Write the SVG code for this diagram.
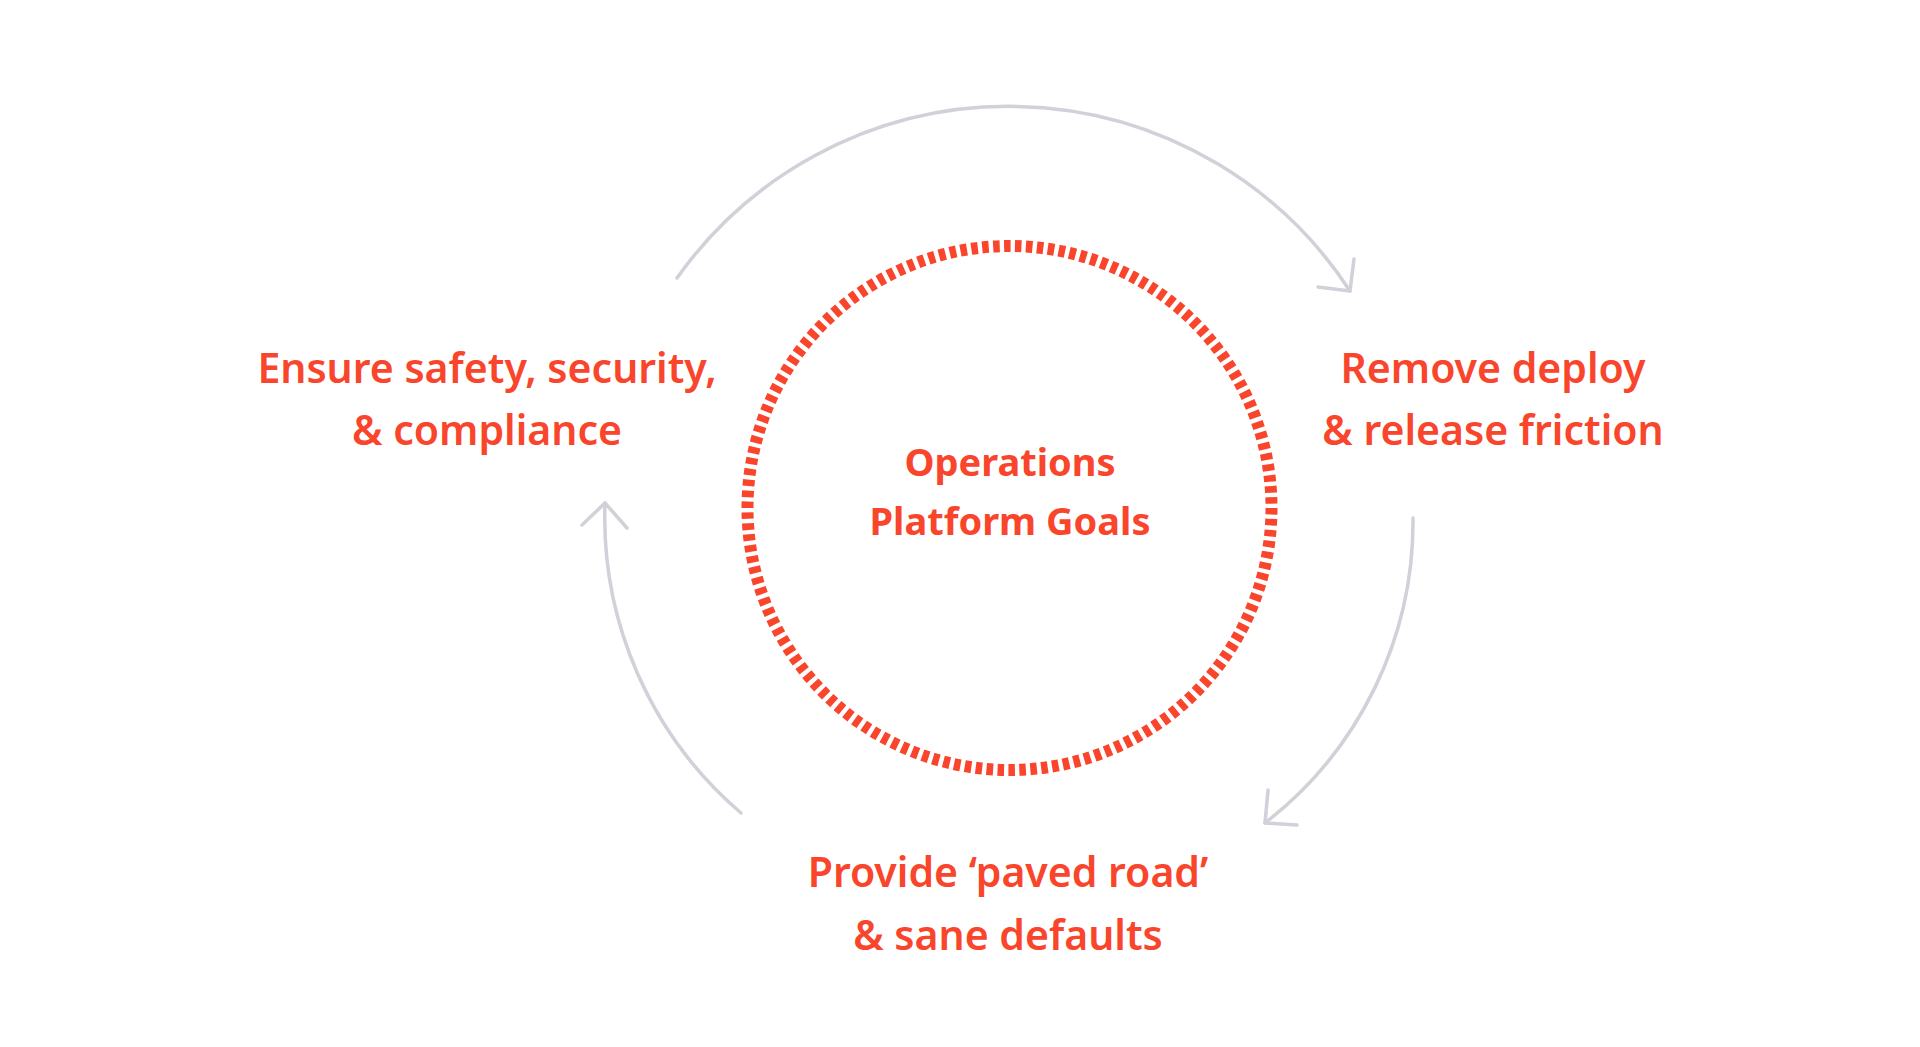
<svg xmlns="http://www.w3.org/2000/svg" width="1920" height="1047" viewBox="0 0 1920 1047">
<style>
.lbl{font-family:"Noto Sans","Open Sans","Liberation Sans",sans-serif;font-weight:600;font-size:41px;fill:#F9452B;text-anchor:middle}
.ctr{font-family:"Noto Sans","Open Sans","Liberation Sans",sans-serif;font-weight:700;font-size:38px;fill:#F9452B;text-anchor:middle}
.arc{fill:none;stroke:#D0D1D9;stroke-width:3.5;stroke-linecap:round;stroke-linejoin:round}
</style>
<rect width="1920" height="1047" fill="#FFFFFF"/>
<g id="center-node">
<circle cx="1009.5" cy="508" r="262" fill="none" stroke="#F9452B" stroke-width="12" pathLength="1500" stroke-dasharray="6 4"/>
<text class="ctr" x="1010" y="476">Operations</text>
<text class="ctr" x="1010" y="535">Platform Goals</text>
</g>
<g id="node-security">
<text class="lbl" x="487" y="383">Ensure safety, security,</text>
<text class="lbl" x="487" y="445">&amp; compliance</text>
</g>
<g id="node-friction">
<text class="lbl" x="1493" y="383">Remove deploy</text>
<text class="lbl" x="1493" y="445">&amp; release friction</text>
</g>
<g id="node-paved">
<text class="lbl" x="1008" y="887">Provide ‘paved road’</text>
<text class="lbl" x="1008" y="950">&amp; sane defaults</text>
</g>
<g id="connectors">
<path class="arc" d="M677,278 A407,407 0 0 1 1350,291"/>
<path class="arc" d="M1354,259 L1350,291 L1318,287"/>
<path class="arc" d="M1413,518 A381,381 0 0 1 1265,823"/>
<path class="arc" d="M1268,790 L1265,823 L1297,825"/>
<path class="arc" d="M741,813 A389,389 0 0 1 605,503"/>
<path class="arc" d="M582,525 L605,503 L627,528"/>
</g>
</svg>
